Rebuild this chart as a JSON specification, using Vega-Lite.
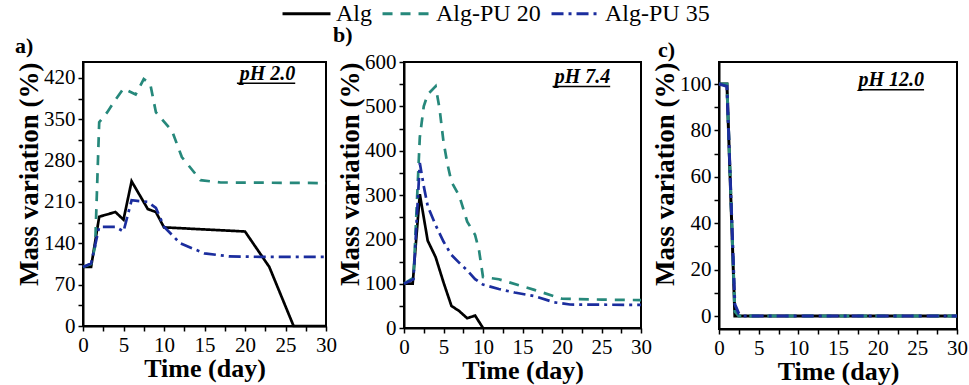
{
  "$schema": "https://vega.github.io/schema/vega-lite/v6.json",
  "padding": {"left": 14, "top": -12, "right": 5, "bottom": 0},
  "bounds": "flush",
  "spacing": 78,
  "data": {"values": [
    {"panel": "a", "series": "Alg", "day": 0, "mass": 100},
    {"panel": "a", "series": "Alg", "day": 1, "mass": 100},
    {"panel": "a", "series": "Alg", "day": 2, "mass": 185},
    {"panel": "a", "series": "Alg", "day": 4, "mass": 193},
    {"panel": "a", "series": "Alg", "day": 5, "mass": 180},
    {"panel": "a", "series": "Alg", "day": 6, "mass": 245},
    {"panel": "a", "series": "Alg", "day": 8, "mass": 198},
    {"panel": "a", "series": "Alg", "day": 9, "mass": 193},
    {"panel": "a", "series": "Alg", "day": 10, "mass": 167},
    {"panel": "a", "series": "Alg", "day": 20, "mass": 160},
    {"panel": "a", "series": "Alg", "day": 23, "mass": 100},
    {"panel": "a", "series": "Alg", "day": 26, "mass": 0},
    {"panel": "a", "series": "Alg", "day": 30, "mass": 0},
    {"panel": "a", "series": "Alg-PU 20", "day": 0, "mass": 100},
    {"panel": "a", "series": "Alg-PU 20", "day": 1, "mass": 105},
    {"panel": "a", "series": "Alg-PU 20", "day": 1.5, "mass": 135},
    {"panel": "a", "series": "Alg-PU 20", "day": 2, "mass": 345},
    {"panel": "a", "series": "Alg-PU 20", "day": 3, "mass": 362},
    {"panel": "a", "series": "Alg-PU 20", "day": 4, "mass": 383},
    {"panel": "a", "series": "Alg-PU 20", "day": 5, "mass": 402},
    {"panel": "a", "series": "Alg-PU 20", "day": 6.5, "mass": 392},
    {"panel": "a", "series": "Alg-PU 20", "day": 7.5, "mass": 418},
    {"panel": "a", "series": "Alg-PU 20", "day": 8.3, "mass": 410},
    {"panel": "a", "series": "Alg-PU 20", "day": 9, "mass": 362},
    {"panel": "a", "series": "Alg-PU 20", "day": 11, "mass": 330},
    {"panel": "a", "series": "Alg-PU 20", "day": 12.2, "mass": 286},
    {"panel": "a", "series": "Alg-PU 20", "day": 14.5, "mass": 247},
    {"panel": "a", "series": "Alg-PU 20", "day": 17, "mass": 243},
    {"panel": "a", "series": "Alg-PU 20", "day": 30, "mass": 242},
    {"panel": "a", "series": "Alg-PU 35", "day": 0, "mass": 100},
    {"panel": "a", "series": "Alg-PU 35", "day": 1, "mass": 106},
    {"panel": "a", "series": "Alg-PU 35", "day": 2, "mass": 168},
    {"panel": "a", "series": "Alg-PU 35", "day": 4, "mass": 168},
    {"panel": "a", "series": "Alg-PU 35", "day": 5, "mass": 160},
    {"panel": "a", "series": "Alg-PU 35", "day": 6, "mass": 213},
    {"panel": "a", "series": "Alg-PU 35", "day": 8, "mass": 210},
    {"panel": "a", "series": "Alg-PU 35", "day": 9, "mass": 200},
    {"panel": "a", "series": "Alg-PU 35", "day": 10, "mass": 168},
    {"panel": "a", "series": "Alg-PU 35", "day": 12, "mass": 140},
    {"panel": "a", "series": "Alg-PU 35", "day": 15, "mass": 123},
    {"panel": "a", "series": "Alg-PU 35", "day": 18, "mass": 118},
    {"panel": "a", "series": "Alg-PU 35", "day": 22, "mass": 117},
    {"panel": "a", "series": "Alg-PU 35", "day": 30, "mass": 117},
    {"panel": "b", "series": "Alg", "day": 0, "mass": 100},
    {"panel": "b", "series": "Alg", "day": 1.1, "mass": 100},
    {"panel": "b", "series": "Alg", "day": 2, "mass": 302},
    {"panel": "b", "series": "Alg", "day": 3, "mass": 197},
    {"panel": "b", "series": "Alg", "day": 4, "mass": 160},
    {"panel": "b", "series": "Alg", "day": 5, "mass": 103},
    {"panel": "b", "series": "Alg", "day": 6, "mass": 50},
    {"panel": "b", "series": "Alg", "day": 7, "mass": 38},
    {"panel": "b", "series": "Alg", "day": 8, "mass": 22},
    {"panel": "b", "series": "Alg", "day": 9, "mass": 28},
    {"panel": "b", "series": "Alg", "day": 10, "mass": 0},
    {"panel": "b", "series": "Alg-PU 20", "day": 0, "mass": 100},
    {"panel": "b", "series": "Alg-PU 20", "day": 1.2, "mass": 113},
    {"panel": "b", "series": "Alg-PU 20", "day": 2, "mass": 430},
    {"panel": "b", "series": "Alg-PU 20", "day": 2.5, "mass": 500},
    {"panel": "b", "series": "Alg-PU 20", "day": 3, "mass": 527},
    {"panel": "b", "series": "Alg-PU 20", "day": 4, "mass": 545},
    {"panel": "b", "series": "Alg-PU 20", "day": 4.5, "mass": 495},
    {"panel": "b", "series": "Alg-PU 20", "day": 5, "mass": 420},
    {"panel": "b", "series": "Alg-PU 20", "day": 5.5, "mass": 370},
    {"panel": "b", "series": "Alg-PU 20", "day": 6, "mass": 330},
    {"panel": "b", "series": "Alg-PU 20", "day": 7, "mass": 298},
    {"panel": "b", "series": "Alg-PU 20", "day": 8, "mass": 240},
    {"panel": "b", "series": "Alg-PU 20", "day": 9, "mass": 210},
    {"panel": "b", "series": "Alg-PU 20", "day": 9.5, "mass": 175},
    {"panel": "b", "series": "Alg-PU 20", "day": 10, "mass": 115},
    {"panel": "b", "series": "Alg-PU 20", "day": 12, "mass": 110},
    {"panel": "b", "series": "Alg-PU 20", "day": 16.5, "mass": 86},
    {"panel": "b", "series": "Alg-PU 20", "day": 20, "mass": 66},
    {"panel": "b", "series": "Alg-PU 20", "day": 25, "mass": 64},
    {"panel": "b", "series": "Alg-PU 20", "day": 30, "mass": 63},
    {"panel": "b", "series": "Alg-PU 35", "day": 0, "mass": 100},
    {"panel": "b", "series": "Alg-PU 35", "day": 1.2, "mass": 110},
    {"panel": "b", "series": "Alg-PU 35", "day": 2, "mass": 372},
    {"panel": "b", "series": "Alg-PU 35", "day": 2.5, "mass": 320},
    {"panel": "b", "series": "Alg-PU 35", "day": 3, "mass": 275},
    {"panel": "b", "series": "Alg-PU 35", "day": 4, "mass": 232},
    {"panel": "b", "series": "Alg-PU 35", "day": 5, "mass": 195},
    {"panel": "b", "series": "Alg-PU 35", "day": 6, "mass": 165},
    {"panel": "b", "series": "Alg-PU 35", "day": 7, "mass": 147},
    {"panel": "b", "series": "Alg-PU 35", "day": 8, "mass": 130},
    {"panel": "b", "series": "Alg-PU 35", "day": 9, "mass": 110},
    {"panel": "b", "series": "Alg-PU 35", "day": 10, "mass": 98},
    {"panel": "b", "series": "Alg-PU 35", "day": 12, "mass": 88},
    {"panel": "b", "series": "Alg-PU 35", "day": 14, "mass": 80},
    {"panel": "b", "series": "Alg-PU 35", "day": 16.5, "mass": 72},
    {"panel": "b", "series": "Alg-PU 35", "day": 19, "mass": 58},
    {"panel": "b", "series": "Alg-PU 35", "day": 21, "mass": 53},
    {"panel": "b", "series": "Alg-PU 35", "day": 30, "mass": 52},
    {"panel": "c", "series": "Alg", "day": 0, "mass": 100},
    {"panel": "c", "series": "Alg", "day": 1, "mass": 100},
    {"panel": "c", "series": "Alg", "day": 2, "mass": 0},
    {"panel": "c", "series": "Alg", "day": 30, "mass": 0},
    {"panel": "c", "series": "Alg-PU 20", "day": 0, "mass": 100},
    {"panel": "c", "series": "Alg-PU 20", "day": 1, "mass": 100},
    {"panel": "c", "series": "Alg-PU 20", "day": 2, "mass": 2},
    {"panel": "c", "series": "Alg-PU 20", "day": 2.5, "mass": 0},
    {"panel": "c", "series": "Alg-PU 20", "day": 30, "mass": 0},
    {"panel": "c", "series": "Alg-PU 35", "day": 0, "mass": 100},
    {"panel": "c", "series": "Alg-PU 35", "day": 1, "mass": 99},
    {"panel": "c", "series": "Alg-PU 35", "day": 2, "mass": 5},
    {"panel": "c", "series": "Alg-PU 35", "day": 2.5, "mass": 1},
    {"panel": "c", "series": "Alg-PU 35", "day": 3, "mass": 0},
    {"panel": "c", "series": "Alg-PU 35", "day": 30, "mass": 0}
  ]},
  "hconcat": [
    {
      "width": 243, "height": 264,
      "title": {"text": "a)", "dx": -68, "offset": 4},
      "layer": [
        {
          "transform": [{"filter": "datum.panel === 'a'"}],
          "mark": {"type": "line", "strokeWidth": 2.7},
          "encoding": {
            "x": {"field": "day", "type": "quantitative", "scale": {"domain": [0, 30]},
                  "axis": {"title": "Time (day)", "labelOverlap": false, "values": [0,2.5,5,7.5,10,12.5,15,17.5,20,22.5,25,27.5,30], "labelExpr": "datum.value % 5 ? '' : datum.label"}},
            "y": {"field": "mass", "type": "quantitative", "scale": {"domain": [0, 447], "nice": false},
                  "axis": {"title": "Mass variation (%)", "labelOverlap": false, "values": [0,35,70,105,140,175,210,245,280,315,350,385,420], "labelExpr": "datum.value % 70 ? '' : datum.label"}},
            "color": {"field": "series", "type": "nominal", "scale": {"domain": ["Alg", "Alg-PU 20", "Alg-PU 35"], "range": ["#000000", "#26887b", "#1b2d9e"]}},
            "strokeDash": {"field": "series", "type": "nominal", "scale": {"domain": ["Alg", "Alg-PU 20", "Alg-PU 35"], "range": [[1, 0], [10, 8], [12, 5, 3, 5]]}}
          }
        },
        {
          "data": {"values": [{"label": "pH 2.0"}]},
          "mark": {"type": "text", "align": "right", "baseline": "alphabetic", "fontSize": 20, "fontStyle": "italic", "fontWeight": "bold", "font": "Liberation Serif", "color": "black"},
          "encoding": {
            "x": {"datum": 26.2, "type": "quantitative", "axis": {"title": "Time (day)", "labelOverlap": false, "values": [0,2.5,5,7.5,10,12.5,15,17.5,20,22.5,25,27.5,30], "labelExpr": "datum.value % 5 ? '' : datum.label"}},
            "y": {"datum": 417, "type": "quantitative", "axis": {"title": "Mass variation (%)", "labelOverlap": false, "values": [0,35,70,105,140,175,210,245,280,315,350,385,420], "labelExpr": "datum.value % 70 ? '' : datum.label"}},
            "text": {"field": "label"}}
        },
        {
          "data": {"values": [{"label": "pH 2.0"}]},
          "mark": {"type": "rule", "strokeWidth": 1.5, "color": "black"},
          "encoding": {
            "x": {"datum": 19.0, "type": "quantitative", "axis": {"title": "Time (day)", "labelOverlap": false, "values": [0,2.5,5,7.5,10,12.5,15,17.5,20,22.5,25,27.5,30], "labelExpr": "datum.value % 5 ? '' : datum.label"}},
            "x2": {"datum": 26.2},
            "y": {"datum": 411, "type": "quantitative", "axis": {"title": "Mass variation (%)", "labelOverlap": false, "values": [0,35,70,105,140,175,210,245,280,315,350,385,420], "labelExpr": "datum.value % 70 ? '' : datum.label"}}}
        }
      ]
    },
    {
      "width": 237, "height": 266,
      "title": {"text": "b)", "dx": -71, "offset": 4},
      "layer": [
        {
          "transform": [{"filter": "datum.panel === 'b'"}],
          "mark": {"type": "line", "strokeWidth": 2.7},
          "encoding": {
            "x": {"field": "day", "type": "quantitative", "scale": {"domain": [0, 30]},
                  "axis": {"title": "Time (day)", "labelOverlap": false, "values": [0,2.5,5,7.5,10,12.5,15,17.5,20,22.5,25,27.5,30], "labelExpr": "datum.value % 5 ? '' : datum.label"}},
            "y": {"field": "mass", "type": "quantitative", "scale": {"domain": [0, 600], "nice": false},
                  "axis": {"title": "Mass variation (%)", "labelOverlap": false, "values": [0,50,100,150,200,250,300,350,400,450,500,550,600], "labelExpr": "datum.value % 100 ? '' : datum.label"}},
            "color": {"field": "series", "type": "nominal"},
            "strokeDash": {"field": "series", "type": "nominal"}
          }
        },
        {
          "data": {"values": [{"label": "pH 7.4"}]},
          "mark": {"type": "text", "align": "right", "baseline": "alphabetic", "fontSize": 20, "fontStyle": "italic", "fontWeight": "bold", "font": "Liberation Serif", "color": "black"},
          "encoding": {
            "x": {"datum": 26.1, "type": "quantitative", "axis": {"title": "Time (day)", "labelOverlap": false, "values": [0,2.5,5,7.5,10,12.5,15,17.5,20,22.5,25,27.5,30], "labelExpr": "datum.value % 5 ? '' : datum.label"}},
            "y": {"datum": 553, "type": "quantitative", "axis": {"title": "Mass variation (%)", "labelOverlap": false, "values": [0,50,100,150,200,250,300,350,400,450,500,550,600], "labelExpr": "datum.value % 100 ? '' : datum.label"}},
            "text": {"field": "label"}}
        },
        {
          "data": {"values": [{"label": "pH 7.4"}]},
          "mark": {"type": "rule", "strokeWidth": 1.5, "color": "black"},
          "encoding": {
            "x": {"datum": 18.8, "type": "quantitative", "axis": {"title": "Time (day)", "labelOverlap": false, "values": [0,2.5,5,7.5,10,12.5,15,17.5,20,22.5,25,27.5,30], "labelExpr": "datum.value % 5 ? '' : datum.label"}},
            "x2": {"datum": 26.1},
            "y": {"datum": 545, "type": "quantitative", "axis": {"title": "Mass variation (%)", "labelOverlap": false, "values": [0,50,100,150,200,250,300,350,400,450,500,550,600], "labelExpr": "datum.value % 100 ? '' : datum.label"}}}
        }
      ]
    },
    {
      "width": 238, "height": 267,
      "title": {"text": "c)", "dx": -61, "offset": 0},
      "layer": [
        {
          "transform": [{"filter": "datum.panel === 'c'"}],
          "mark": {"type": "line", "strokeWidth": 3},
          "encoding": {
            "x": {"field": "day", "type": "quantitative", "scale": {"domain": [0, 30]},
                  "axis": {"title": "Time (day)", "labelOverlap": false, "values": [0,2.5,5,7.5,10,12.5,15,17.5,20,22.5,25,27.5,30], "labelExpr": "datum.value % 5 ? '' : datum.label"}},
            "y": {"field": "mass", "type": "quantitative", "scale": {"domain": [-5.6, 109.5], "nice": false, "zero": false},
                  "axis": {"title": "Mass variation (%)", "labelOverlap": false, "values": [0,10,20,30,40,50,60,70,80,90,100], "labelExpr": "datum.value % 20 ? '' : datum.label"}},
            "color": {"field": "series", "type": "nominal"},
            "strokeDash": {"field": "series", "type": "nominal"}
          }
        },
        {
          "data": {"values": [{"label": "pH 12.0"}]},
          "mark": {"type": "text", "align": "right", "baseline": "alphabetic", "fontSize": 20, "fontStyle": "italic", "fontWeight": "bold", "font": "Liberation Serif", "color": "black"},
          "encoding": {
            "x": {"datum": 25.85, "type": "quantitative", "axis": {"title": "Time (day)", "labelOverlap": false, "values": [0,2.5,5,7.5,10,12.5,15,17.5,20,22.5,25,27.5,30], "labelExpr": "datum.value % 5 ? '' : datum.label"}},
            "y": {"datum": 99, "type": "quantitative", "axis": {"title": "Mass variation (%)", "labelOverlap": false, "values": [0,10,20,30,40,50,60,70,80,90,100], "labelExpr": "datum.value % 20 ? '' : datum.label"}},
            "text": {"field": "label"}}
        },
        {
          "data": {"values": [{"label": "pH 12.0"}]},
          "mark": {"type": "rule", "strokeWidth": 1.5, "color": "black"},
          "encoding": {
            "x": {"datum": 17.6, "type": "quantitative", "axis": {"title": "Time (day)", "labelOverlap": false, "values": [0,2.5,5,7.5,10,12.5,15,17.5,20,22.5,25,27.5,30], "labelExpr": "datum.value % 5 ? '' : datum.label"}},
            "x2": {"datum": 25.85},
            "y": {"datum": 97.5, "type": "quantitative", "axis": {"title": "Mass variation (%)", "labelOverlap": false, "values": [0,10,20,30,40,50,60,70,80,90,100], "labelExpr": "datum.value % 20 ? '' : datum.label"}}}
        }
      ]
    }
  ],
  "resolve": {"scale": {"color": "shared", "strokeDash": "shared"}},
  "config": {
    "font": "Liberation Serif",
    "view": {"stroke": "black", "strokeWidth": 2},
    "axis": {
      "grid": false,
      "domainColor": "black", "domainWidth": 2,
      "tickColor": "black", "tickWidth": 1.5, "tickSize": 5,
      "labelFont": "Liberation Serif", "labelFontSize": 21, "labelColor": "black", "labelPadding": 3,
      "titleFont": "Liberation Serif", "titleFontWeight": "bold", "titleColor": "black",
      "labelOverlap": false, "labelFlush": false
    },
    "axisX": {"titlePadding": 0, "labelPadding": 3, "titleFontSize": 26},
    "axisY": {"titleAnchor": "end", "titlePadding": 0, "titleFontSize": 27},
    "title": {"font": "Liberation Serif", "fontSize": 22, "fontWeight": "bold", "anchor": "start", "frame": "group", "color": "black"},
    "legend": {
      "orient": "none", "legendX": 198, "legendY": -74,
      "direction": "horizontal", "title": null,
      "symbolType": "M-1,0H1", "symbolSize": 2300, "symbolStrokeWidth": 3,
      "labelFont": "Liberation Serif", "labelFontSize": 24, "labelColor": "black",
      "labelOffset": 4, "columnPadding": 4
    }
  }
}
